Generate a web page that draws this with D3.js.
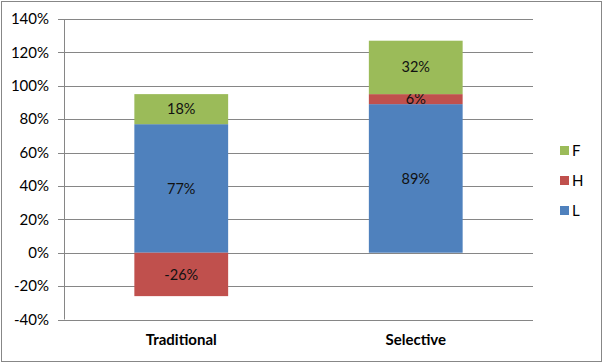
<!DOCTYPE html>
<html>
<head>
<meta charset="utf-8">
<script src="https://cdn.jsdelivr.net/npm/d3@7"></script>
<style>
  body { margin: 0; background: #fff; }
  text { font-family: Lato, "Open Sans", sans-serif; }
</style>
</head>
<body>
<svg width="603" height="363"></svg>
<script>
const categories = ['Traditional', 'Selective'];
const seriesNames = ['L', 'H', 'F'];
const valuesL = [77, 89];
const valuesH = [-26, 6];
const valuesF = [18, 32];
const yTicks = [-40, -20, 0, 20, 40, 60, 80, 100, 120, 140];
const colors = { L: '#4f81bd', H: '#c0504d', F: '#9bbb59' };

const svg = d3.select('svg');
const width = +svg.attr('width');
const height = +svg.attr('height');

svg.append('rect')
    .attr('x', 1.5).attr('y', 1.5)
    .attr('width', width - 3).attr('height', height - 3)
    .attr('fill', '#fff')
    .attr('stroke', '#878787');

const plotLeft = 64, plotRight = 533, plotTop = 19, plotBottom = 319.5;

const x = d3.scaleBand()
    .domain(categories)
    .range([plotLeft, plotRight])
    .paddingInner(0.6)
    .paddingOuter(0.3);

const y = d3.scaleLinear()
    .domain([-40, 140])
    .range([plotBottom, plotTop]);

// gridlines
svg.append('g')
    .selectAll('line')
    .data(yTicks)
    .join('line')
    .attr('x1', plotLeft - 6)
    .attr('x2', plotRight)
    .attr('y1', d => Math.round(y(d)) + 0.5)
    .attr('y2', d => Math.round(y(d)) + 0.5)
    .attr('stroke', '#868686');

// y axis line
svg.append('line')
    .attr('x1', plotLeft + 0.5).attr('x2', plotLeft + 0.5)
    .attr('y1', plotTop).attr('y2', plotBottom)
    .attr('stroke', '#868686');

svg.append('g')
    .selectAll('text')
    .data(yTicks)
    .join('text')
    .attr('x', 49)
    .attr('y', d => y(d))
    .attr('dy', '0.35em')
    .attr('text-anchor', 'end')
    .attr('font-size', 15)
    .text(d => d + '%');

// stacked bars (negative values stack below zero)
const table = categories.map((c, i) => ({ cat: c, L: valuesL[i], H: valuesH[i], F: valuesF[i] }));
const stack = d3.stack().keys(seriesNames).offset(d3.stackOffsetDiverging);
const layers = stack(table);

const layerG = svg.append('g')
    .selectAll('g')
    .data(layers)
    .join('g')
    .attr('fill', d => colors[d.key]);

layerG.selectAll('rect')
    .data(d => d)
    .join('rect')
    .attr('x', d => x(d.data.cat))
    .attr('width', x.bandwidth())
    .attr('y', d => y(Math.max(d[0], d[1])))
    .attr('height', d => Math.abs(y(d[0]) - y(d[1])));

layerG.selectAll('text')
    .data(d => d.map(v => Object.assign({ key: d.key }, v)))
    .join('text')
    .attr('x', d => x(d.data.cat) + x.bandwidth() / 2)
    .attr('y', d => y((d[0] + d[1]) / 2))
    .attr('dy', '0.35em')
    .attr('text-anchor', 'middle')
    .attr('font-size', 14.5)
    .attr('fill', '#111')
    .text(d => d.data[d.key] + '%');

// category labels
svg.append('g')
    .selectAll('text')
    .data(categories)
    .join('text')
    .attr('x', d => x(d) + x.bandwidth() / 2)
    .attr('y', 340)
    .attr('dy', '0.35em')
    .attr('text-anchor', 'middle')
    .attr('font-size', 15)
    .attr('font-weight', 'bold')
    .text(d => d);

// legend
const legend = svg.append('g')
    .selectAll('g')
    .data(['F', 'H', 'L'])
    .join('g')
    .attr('transform', (d, i) => `translate(560, ${146 + i * 30})`);

legend.append('rect')
    .attr('width', 9).attr('height', 9)
    .attr('fill', d => colors[d]);

legend.append('text')
    .attr('x', 12)
    .attr('y', 4.5)
    .attr('dy', '0.35em')
    .attr('font-size', 15)
    .text(d => d);
</script>
</body>
</html>
